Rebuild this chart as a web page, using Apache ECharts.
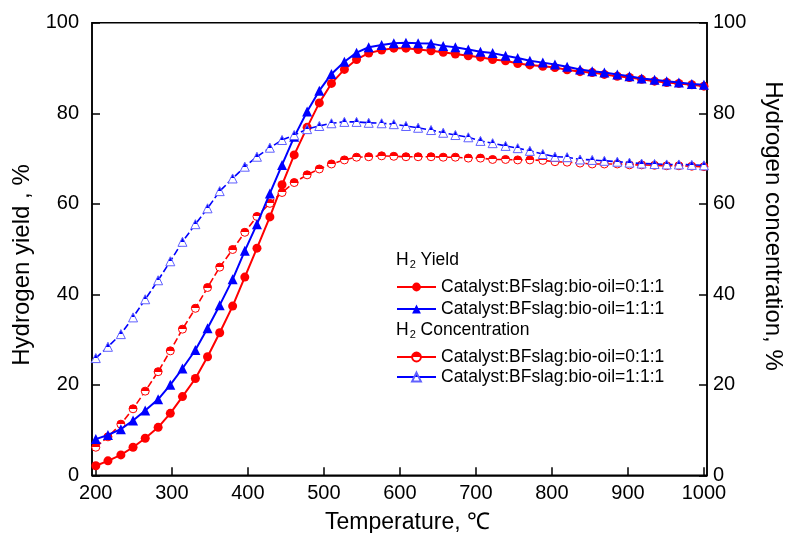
<!DOCTYPE html>
<html>
<head>
<meta charset="utf-8">
<script src="https://cdn.jsdelivr.net/npm/echarts@6/dist/echarts.min.js"></script>
<style>
html,body{margin:0;padding:0;background:#fff;}
#chart{width:785px;height:533px;}
</style>
</head>
<body>
<div id="chart"></div>
<script>
// Temperature (°C)
var temps = [200,216,233,249,265,282,298,314,331,347,363,380,396,412,429,445,461,478,494,510,527,543,559,576,592,608,624,641,657,673,690,706,722,739,755,771,788,804,820,837,853,869,886,902,918,935,951,967,984,1000];
// H2 yield, Catalyst:BFslag:bio-oil=0:1:1
var yieldA = [2.1,3.2,4.5,6.2,8.2,10.6,13.7,17.4,21.4,26.2,31.5,37.4,43.8,50.2,57.1,64.2,70.8,76.9,82.3,86.6,89.7,91.9,93.3,94.0,94.4,94.4,94.1,93.8,93.5,93.1,92.7,92.4,91.9,91.6,91.0,90.7,90.4,90.1,89.6,89.2,89.0,88.6,88.2,87.9,87.5,87.1,86.8,86.6,86.3,86.0];
// H2 yield, Catalyst:BFslag:bio-oil=1:1:1
var yieldB = [8.0,8.9,10.2,12.1,14.3,16.8,20.0,23.6,27.7,32.5,37.6,43.3,49.6,55.5,62.3,68.6,74.8,80.4,85.0,88.7,91.4,93.4,94.6,95.1,95.5,95.6,95.5,95.4,94.9,94.6,94.1,93.6,93.3,92.7,92.2,91.6,91.2,90.8,90.3,89.7,89.3,89.0,88.6,88.2,87.7,87.4,87.1,86.8,86.5,86.3];
// H2 concentration, 0:1:1
var concA = [6.2,8.5,11.3,14.7,18.6,22.9,27.5,32.3,36.9,41.5,46.0,49.9,53.7,57.2,60.1,62.5,64.7,66.4,67.7,68.8,69.7,70.3,70.4,70.6,70.5,70.4,70.4,70.4,70.3,70.3,70.1,70.1,69.8,69.8,69.7,69.7,69.6,69.3,69.2,69.0,68.8,68.8,68.8,68.6,68.6,68.5,68.4,68.4,68.3,68.2];
// H2 concentration, 1:1:1
var concB = [25.9,28.4,31.2,34.9,38.9,43.1,47.3,51.6,55.5,59.0,62.8,65.6,68.2,70.4,72.4,74.1,75.2,76.5,77.2,77.8,78.1,78.1,77.9,77.8,77.6,77.2,76.8,76.3,75.7,75.2,74.7,73.9,73.4,72.8,72.3,71.7,71.0,70.4,70.3,69.8,69.7,69.5,69.3,69.1,68.9,68.8,68.7,68.7,68.6,68.5];
var xTicks = [200,300,400,500,600,700,800,900,1000];
var legendLabels = {
  yA: 'Catalyst:BFslag:bio-oil=0:1:1',
  yB: 'Catalyst:BFslag:bio-oil=1:1:1',
  cA: 'Catalyst:BFslag:bio-oil=0:1:1',
  cB: 'Catalyst:BFslag:bio-oil=1:1:1'
};
var xTitle = 'Temperature, \u2103';
var yLeftTitle = 'Hydrogen yield , %';
var yRightTitle = 'Hydrogen concentration, %';

var FONT = 'Liberation Sans, Arial, sans-serif';
var RED = '#ff0000', BLUE = '#0000ff';
function pairs(arr){ return temps.map(function(t,i){ return [t, arr[i]]; }); }
function half(c){
  return {type:'linear', x:0, y:0, x2:0, y2:1, colorStops:[
    {offset:0,color:c},{offset:0.5,color:c},{offset:0.5,color:'#ffffff'},{offset:1,color:'#ffffff'}]};
}

var chart = echarts.init(document.getElementById('chart'), null, {renderer:'canvas'});
var axisCommon = {
  axisLine:{show:true, lineStyle:{color:'#000', width:1.5}},
  axisTick:{show:true, inside:true, length:8, lineStyle:{color:'#000', width:1.5}},
  splitLine:{show:false}
};
var headStyle = {fontFamily:FONT, fontSize:17.5, fontWeight:'normal', color:'#000', lineHeight:20,
  rich:{s:{fontFamily:FONT, fontSize:11, lineHeight:11, verticalAlign:'bottom', padding:[0,0,0,1]}}};
var option = {
  backgroundColor:'#fff',
  animation:false,
  textStyle:{fontFamily:FONT},
  title:[
    {text:'H{s|2} Yield', left:396, top:250, padding:0, textStyle:headStyle},
    {text:'H{s|2} Concentration', left:396, top:320, padding:0, textStyle:headStyle}
  ],
  graphic:[
    {type:'text', x:22, y:265, rotation:Math.PI/2, silent:true,
     style:{text:yLeftTitle, fontFamily:FONT, fontSize:24, fill:'#000', align:'center', verticalAlign:'middle'}},
    {type:'text', x:773, y:226, rotation:-Math.PI/2, silent:true,
     style:{text:yRightTitle, fontFamily:FONT, fontSize:24, fill:'#000', align:'center', verticalAlign:'middle'}}
  ],
  grid:{left:92, right:78, top:22.8, bottom:57.7, show:true, borderColor:'#000', borderWidth:1.5,
        containLabel:false, outerBoundsMode:'none'},
  legend:[
    {data:['yA','yB'], orient:'vertical', left:396, top:278, padding:0, itemGap:4,
     itemWidth:39, itemHeight:11, formatter:function(n){return legendLabels[n];},
     textStyle:{fontFamily:FONT, fontSize:17.5, color:'#000', lineHeight:18}, selectedMode:false},
    {data:['cA','cB'], orient:'vertical', left:396, top:348, padding:0, itemGap:2,
     itemWidth:39, itemHeight:11, formatter:function(n){return legendLabels[n];},
     lineStyle:{type:'solid'},
     textStyle:{fontFamily:FONT, fontSize:17.5, color:'#000', lineHeight:18}, selectedMode:false}
  ],
  xAxis:Object.assign({}, axisCommon, {
    type:'value', min:195, max:1004,
    name:xTitle, nameLocation:'middle', nameGap:36,
    nameTextStyle:{fontFamily:FONT, fontSize:23, color:'#000', padding:[0,0,0,16]},
    axisTick:{show:true, inside:true, length:8, customValues:xTicks, lineStyle:{color:'#000', width:1.5}},
    axisLabel:{customValues:xTicks, fontFamily:FONT, fontSize:20, color:'#000', margin:8,
      formatter:function(v){return String(v);}}
  }),
  yAxis:[
    Object.assign({}, axisCommon, {
      type:'value', min:0, max:100, interval:20, position:'left',
      axisLabel:{fontFamily:FONT, fontSize:20, color:'#000', margin:13}
    }),
    Object.assign({}, axisCommon, {
      type:'value', min:0, max:100, interval:20, position:'right',
      axisLabel:{fontFamily:FONT, fontSize:20, color:'#000', margin:6}
    })
  ],
  series:[
    {name:'yA', type:'line', yAxisIndex:0, data:pairs(yieldA), symbol:'circle', symbolSize:9,
     lineStyle:{color:RED, width:2}, itemStyle:{color:RED}, z:2},
    {name:'yB', type:'line', yAxisIndex:0, data:pairs(yieldB), symbol:'triangle', symbolSize:10,
     lineStyle:{color:BLUE, width:2}, itemStyle:{color:BLUE}, z:3},
    {name:'cA', type:'line', yAxisIndex:1, data:pairs(concA), symbol:'circle', symbolSize:8,
     lineStyle:{color:RED, width:1.6, type:[7,3]}, itemStyle:{color:half(RED), borderColor:RED, borderWidth:1}, z:2},
    {name:'cB', type:'line', yAxisIndex:1, data:pairs(concB), symbol:'triangle', symbolSize:9,
     lineStyle:{color:BLUE, width:1.6, type:[7,3]}, itemStyle:{color:half(BLUE), borderColor:'#6060ff', borderWidth:1}, z:3}
  ]
};
chart.setOption(option);
</script>
</body>
</html>
